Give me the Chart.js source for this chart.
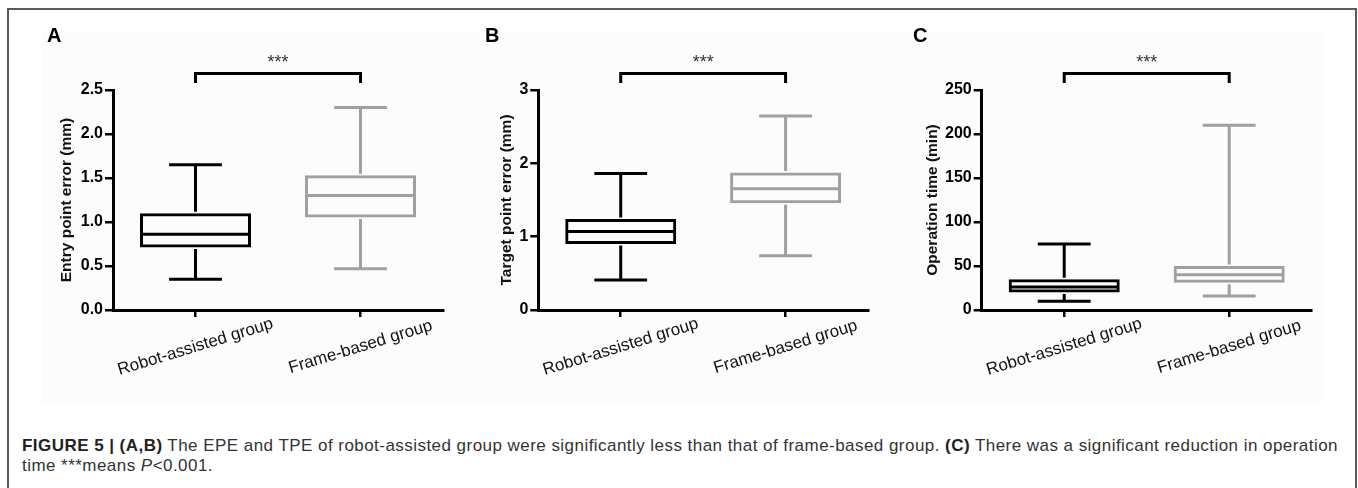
<!DOCTYPE html>
<html>
<head>
<meta charset="utf-8">
<script src="https://cdn.jsdelivr.net/npm/chart.js@4.4.0/dist/chart.umd.min.js"></script>
<style>
  body { margin: 0; background: #fff; width: 1358px; height: 488px; overflow: hidden; position: relative; font-family: "Liberation Sans", Arial, sans-serif; }
  #frame { position: absolute; left: 7px; top: 8px; width: 1346px; height: 500px; border: 2px solid #5a5a5a; border-bottom: none; }
  #shade { position: absolute; left: 42px; top: 32px; width: 1281px; height: 371px; background: #fcfcfc; }
  canvas { position: absolute; top: 0; }
  #caption { position: absolute; left: 22px; top: 436px; font-size: 17px; line-height: 20px; color: #333; white-space: nowrap; }
  #caption b { color: #222; }
</style>
</head>
<body>
<div id="frame"></div>
<div id="shade"></div>
<canvas id="panelA" width="450" height="400" style="left:0px"></canvas>
<canvas id="panelB" width="440" height="400" style="left:450px"></canvas>
<canvas id="panelC" width="468" height="400" style="left:890px"></canvas>
<div id="caption"><span id="line1"><b>FIGURE 5 | (A,B)</b> The EPE and TPE of robot-assisted group were significantly less than that of frame-based group. <b>(C)</b> There was a significant reduction in operation</span><br>time ***means <i>P</i>&lt;0.001.</div>
<script>
const categories = ["Robot-assisted group", "Frame-based group"];
const groupColors = ["#000000", "#a0a0a0"];

// entry point error (mm)
const epeMin = [0.35, 0.47];
const epeQ1 = [0.71, 1.05];
const epeMedian = [0.86, 1.30];
const epeQ3 = [1.10, 1.53];
const epeMax = [1.65, 2.30];

// target point error (mm)
const tpeMin = [0.41, 0.74];
const tpeQ1 = [0.90, 1.455];
const tpeMedian = [1.07, 1.655];
const tpeQ3 = [1.24, 1.875];
const tpeMax = [1.86, 2.645];

// operation time (min)
const opMin = [10, 16];
const opQ1 = [20, 31];
const opMedian = [26, 40];
const opQ3 = [35, 50];
const opMax = [75, 210];

// stretch the first caption line to the width of the figure
const line1 = document.getElementById("line1");
const spare = 1316 - line1.getBoundingClientRect().width;
document.getElementById("caption").style.letterSpacing = (spare / line1.textContent.length) + "px";

const boxExtras = {
    id: "boxExtras",
    afterDatasetsDraw(chart, args, opts) {
        const { ctx, chartArea } = chart;
        const x = chart.scales.x;
        const y = chart.scales.y;
        const meta = chart.getDatasetMeta(0);
        const catWidth = x.width / categories.length;
        ctx.save();
        ctx.lineWidth = 3;
        ctx.lineCap = "butt";
        meta.data.forEach((bar, i) => {
            const cx = bar.x;
            const half = bar.width / 2 - 1.5;
            const capHalf = catWidth * 0.16;
            const pMin = y.getPixelForValue(opts.min[i]);
            const pMax = y.getPixelForValue(opts.max[i]);
            const pQ1 = y.getPixelForValue(opts.q1[i]);
            const pQ3 = y.getPixelForValue(opts.q3[i]);
            const pMed = y.getPixelForValue(opts.median[i]);
            ctx.strokeStyle = groupColors[i];
            ctx.beginPath();
            ctx.moveTo(cx - half, pMed); ctx.lineTo(cx + half, pMed);
            ctx.moveTo(cx, pQ3 - 1.5); ctx.lineTo(cx, pMax);
            ctx.moveTo(cx, pQ1 + 1.5); ctx.lineTo(cx, pMin);
            ctx.moveTo(cx - capHalf, pMax); ctx.lineTo(cx + capHalf, pMax);
            ctx.moveTo(cx - capHalf, pMin); ctx.lineTo(cx + capHalf, pMin);
            ctx.stroke();
        });

        // significance bracket
        const x0 = x.getPixelForValue(0);
        const x1 = x.getPixelForValue(1);
        const top = chartArea.top - 16.5;
        const leg = chartArea.top - 7;
        ctx.strokeStyle = "#000";
        ctx.lineJoin = "miter";
        ctx.beginPath();
        ctx.moveTo(x0, leg);
        ctx.lineTo(x0, top);
        ctx.lineTo(x1, top);
        ctx.lineTo(x1, leg);
        ctx.stroke();
        ctx.fillStyle = "#333";
        ctx.font = '18px "Liberation Sans"';
        ctx.textAlign = "center";
        ctx.textBaseline = "alphabetic";
        ctx.fillText("***", (x0 + x1) / 2, chartArea.top - 22.5);

        // rotated category labels, centred under the ticks
        categories.forEach((c, i) => {
            ctx.save();
            ctx.translate(x.getPixelForValue(i), chartArea.bottom + 37);
            ctx.rotate(-17 * Math.PI / 180);
            ctx.textAlign = "center";
            ctx.textBaseline = "middle";
            ctx.font = '17px "Liberation Sans"';
            ctx.fillStyle = "#111";
            ctx.fillText(c, 0, 0);
            ctx.restore();
        });

        // panel letter
        ctx.textAlign = "left";
        ctx.textBaseline = "alphabetic";
        ctx.font = 'bold 20px "Liberation Sans"';
        ctx.fillStyle = "#000";
        ctx.fillText(opts.letter, opts.letterX, 42);
        ctx.restore();
    }
};

function makePanel(id, p) {
    const q1q3 = p.q1.map((v, i) => [v, p.q3[i]]);
    return new Chart(document.getElementById(id), {
        type: "bar",
        data: {
            labels: categories,
            datasets: [{
                data: q1q3,
                backgroundColor: "rgba(255,255,255,0)",
                borderColor: groupColors,
                borderWidth: 3,
                borderSkipped: false,
                categoryPercentage: 1,
                barPercentage: 0.673
            }]
        },
        plugins: [boxExtras],
        options: {
            responsive: false,
            animation: false,
            devicePixelRatio: 1,
            layout: { padding: { left: p.padLeft, right: p.padRight, top: 90, bottom: 0 } },
            plugins: {
                legend: { display: false },
                tooltip: { enabled: false },
                boxExtras: {
                    min: p.min, q1: p.q1, median: p.median, q3: p.q3, max: p.max,
                    letter: p.letter, letterX: p.letterX
                }
            },
            scales: {
                x: {
                    offset: true,
                    grid: { offset: false, drawOnChartArea: false, drawTicks: true, tickLength: 7, color: "#000", lineWidth: 2.5 },
                    border: { display: true, color: "#000", width: 3 },
                    ticks: { display: false },
                    afterFit: (s) => { s.height = 90; }
                },
                y: {
                    min: 0,
                    max: p.yMax,
                    grid: { drawOnChartArea: false, drawTicks: true, tickLength: 8, color: "#000", lineWidth: 2.5 },
                    border: { display: true, color: "#000", width: 3 },
                    ticks: {
                        stepSize: p.step,
                        padding: 2,
                        color: "#000",
                        font: { family: "Liberation Sans", weight: "bold", size: 16 },
                        callback: (v) => v.toFixed(p.decimals)
                    },
                    title: {
                        display: true,
                        text: p.title,
                        color: "#111",
                        padding: 0,
                        font: { family: "Liberation Sans", weight: "bold", size: 15.5 }
                    },
                    afterFit: (s) => { s.width = p.axisWidth; }
                }
            }
        }
    });
}

makePanel("panelA", {
    min: epeMin, q1: epeQ1, median: epeMedian, q3: epeQ3, max: epeMax,
    yMax: 2.5, step: 0.5, decimals: 1, title: "Entry point error (mm)",
    padLeft: 57.7, axisWidth: 55.3, padRight: 7, letter: "A", letterX: 47
});
makePanel("panelB", {
    min: tpeMin, q1: tpeQ1, median: tpeMedian, q3: tpeQ3, max: tpeMax,
    yMax: 3, step: 1, decimals: 0, title: "Target point error (mm)",
    padLeft: 47.4, axisWidth: 40.9, padRight: 22, letter: "B", letterX: 35
});
makePanel("panelC", {
    min: opMin, q1: opQ1, median: opMedian, q3: opQ3, max: opMax,
    yMax: 250, step: 50, decimals: 0, title: "Operation time (min)",
    padLeft: 33.4, axisWidth: 58.3, padRight: 46.3, letter: "C", letterX: 23
});
</script>
</body>
</html>
